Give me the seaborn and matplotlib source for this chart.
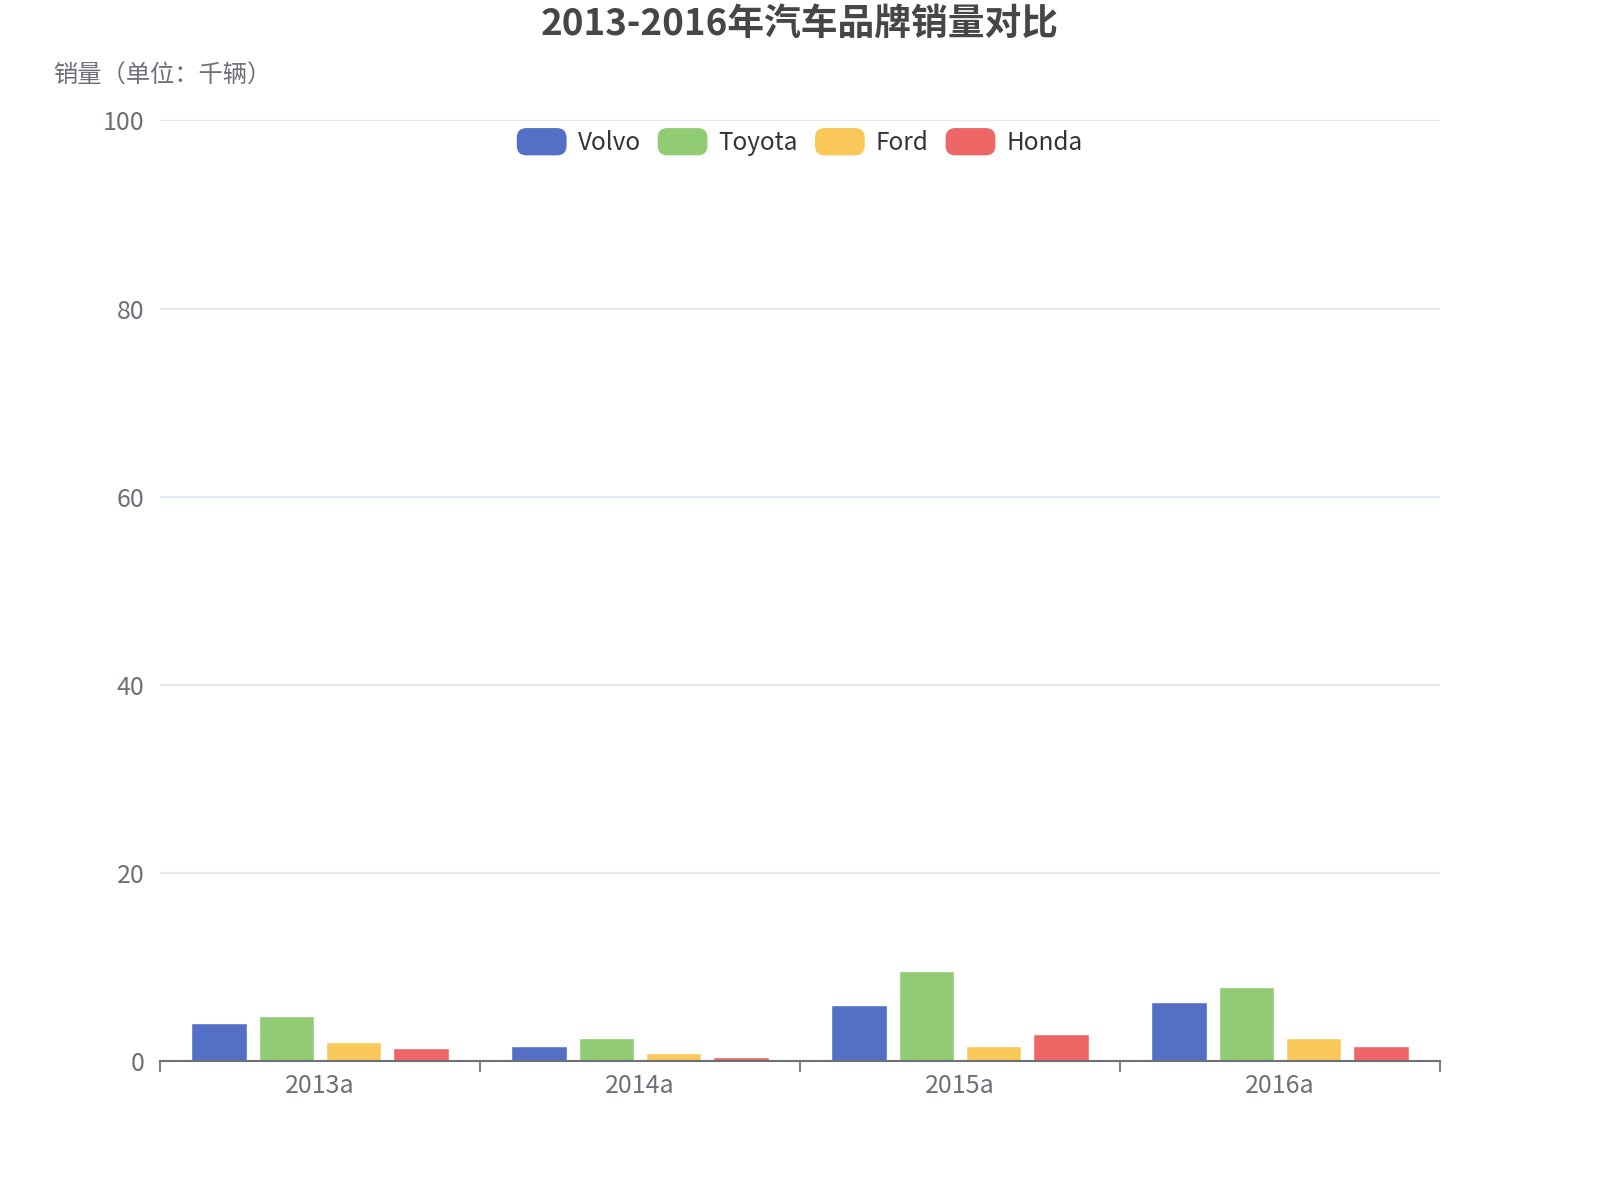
import numpy as np
import pandas as pd
import matplotlib
matplotlib.use("Agg")
import matplotlib.pyplot as plt
import seaborn as sns
from matplotlib.patches import FancyBboxPatch, Patch
from matplotlib.legend_handler import HandlerPatch

years = ["2013a", "2014a", "2015a", "2016a"]
brands = ["Volvo", "Toyota", "Ford", "Honda"]
volvo = [4.0, 1.6, 5.9, 6.3]
toyota = [4.8, 2.4, 9.5, 7.9]
ford = [2.0, 0.8, 1.6, 2.4]
honda = [1.4, 0.4, 2.8, 1.6]
colors = ["#5470c6", "#91cc75", "#fac858", "#ee6666"]

df = pd.DataFrame({
    "year": years * 4,
    "brand": np.repeat(brands, 4),
    "sales": volvo + toyota + ford + honda,
})

sns.set_style("white")
plt.rcParams["font.family"] = ["Noto Sans CJK SC", "DejaVu Sans"]

fig = plt.figure(figsize=(16, 12), dpi=100)
ax = fig.add_axes([0.100, 0.116, 0.800, 0.7836])

sns.barplot(data=df, x="year", y="sales", hue="brand", palette=colors,
            width=0.84, gap=0.17, saturation=1, ax=ax, legend=False)

ax.set_ylim(0, 100)
ax.set_xlim(-0.5, 3.5)
ax.set_yticks([0, 20, 40, 60, 80, 100])
ax.yaxis.grid(True, color="#e0e6f1", linewidth=1.3)
ax.set_axisbelow(True)
for s in ["top", "right", "left"]:
    ax.spines[s].set_visible(False)
ax.spines["bottom"].set_color("#6e7079")
ax.spines["bottom"].set_linewidth(1.5)
ax.tick_params(axis="y", length=0, pad=11, labelsize=18, labelcolor="#6e7079")
ax.tick_params(axis="x", which="major", length=0, pad=9, labelsize=18, labelcolor="#6e7079")
# category boundary ticks (echarts style)
ax.set_xticks([-0.5, 0.5, 1.5, 2.5, 3.5], minor=True)
ax.tick_params(axis="x", which="minor", bottom=True, length=8, width=1.3,
               color="#6e7079", direction="out")
ax.set_xlabel("")
ax.set_ylabel("")

fig.text(0.500, 0.9796, "2013-2016年汽车品牌销量对比", ha="center", va="center",
         fontsize=26.5, fontweight="bold", color="#464646")
fig.text(0.0332, 0.937, "销量（单位：千辆）", ha="left", va="center",
         fontsize=17.5, color="#6e7079")


class RoundHandler(HandlerPatch):
    def create_artists(self, legend, orig_handle, xdescent, ydescent,
                       width, height, fontsize, trans):
        p = FancyBboxPatch((-xdescent, -ydescent), width, height,
                           boxstyle="round,pad=0,rounding_size=7",
                           facecolor=orig_handle.get_facecolor(),
                           edgecolor="none", transform=trans)
        return [p]


handles = [Patch(facecolor=c, label=b) for c, b in zip(colors, brands)]
fig.legend(handles=handles, loc="center", bbox_to_anchor=(0.4998, 0.8817),
           ncol=4, frameon=False, fontsize=17.5, handlelength=2.05,
           handleheight=1.35, handletextpad=0.45, columnspacing=0.7,
           labelcolor="#333333",
           handler_map={Patch: RoundHandler()})

fig.savefig("out.png", dpi=100)
